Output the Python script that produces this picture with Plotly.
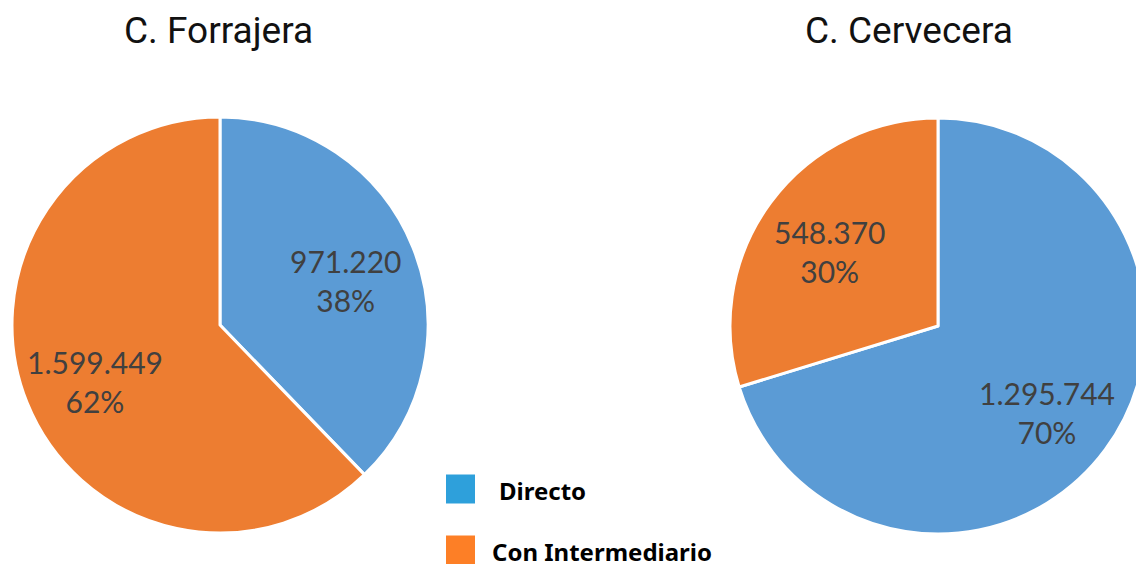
import math
import plotly.graph_objects as go

categories = ["Directo", "Con Intermediario"]
forrajera_values = [971220, 1599449]
cervecera_values = [1295744, 548370]
titles = ["C. Forrajera", "C. Cervecera"]
pie_colors = ["#5B9BD5", "#ED7D31"]
legend_colors = ["#2EA0DB", "#FD7F26"]

W, H = 1146, 564

def px(x):
    return x / W

def py(y):
    return 1 - y / H

# pie boxes in pixels (left, top, size)
pie_boxes = [(12, 117, 416), (730, 118, 416)]
label_radius = 0.65

fig = go.Figure()
annotations = []

for values, (bx, by, bs) in zip([forrajera_values, cervecera_values], pie_boxes):
    fig.add_trace(go.Pie(
        values=values,
        labels=categories,
        sort=False,
        direction="clockwise",
        rotation=0,
        marker=dict(colors=pie_colors, line=dict(color="white", width=3)),
        textinfo="none",
        showlegend=False,
        hoverinfo="label+value+percent",
        domain=dict(x=[px(bx), px(bx + bs)], y=[py(by + bs), py(by)]),
    ))
    # data labels at the middle angle of each slice
    total = sum(values)
    cx, cy, r = bx + bs / 2, by + bs / 2, bs / 2
    cum = 0
    for v in values:
        mid = (cum + v / 2) / total * 2 * math.pi
        cum += v
        lx = cx + label_radius * r * math.sin(mid)
        ly = cy - label_radius * r * math.cos(mid)
        txt = f"{v:,}".replace(",", ".") + "<br>" + f"{round(100 * v / total)}%"
        annotations.append(dict(
            text=txt, x=px(lx), y=py(ly), xref="paper", yref="paper",
            showarrow=False, xanchor="center", yanchor="middle", align="center",
            yshift=-6,
            font=dict(family="Lato, Carlito, sans-serif", size=30, color="#404040"),
        ))

title_pos = [(218, 31), (909, 31)]
for t, (tx, ty) in zip(titles, title_pos):
    annotations.append(dict(text=t, x=px(tx), y=py(ty), xref="paper", yref="paper",
                            showarrow=False, xanchor="center", yanchor="middle",
                            font=dict(family="Roboto", size=37, color="#111111")))

legend_y = [489, 550]
legend_text_x = [497, 490]
shapes = []
for i, cat in enumerate(categories):
    yc = legend_y[i]
    shapes.append(dict(type="rect", xref="paper", yref="paper",
                       x0=px(446), x1=px(475), y0=py(yc + 14.5), y1=py(yc - 14.5),
                       fillcolor=legend_colors[i], line=dict(width=0)))
    annotations.append(dict(text="<b>" + cat + "</b>", xref="paper", yref="paper",
                            x=px(legend_text_x[i]), y=py(yc + 1), showarrow=False,
                            xanchor="left", yanchor="middle",
                            font=dict(family="Noto Sans", size=24, color="#000000")))

fig.update_layout(
    width=W, height=H,
    margin=dict(l=0, r=0, t=0, b=0),
    paper_bgcolor="white",
    plot_bgcolor="white",
    annotations=annotations,
    shapes=shapes,
)

fig.write_html(
    "out.html",
    config={"displayModeBar": False},
    post_script="document.body.style.margin='0';document.body.style.overflow='hidden';",
)
